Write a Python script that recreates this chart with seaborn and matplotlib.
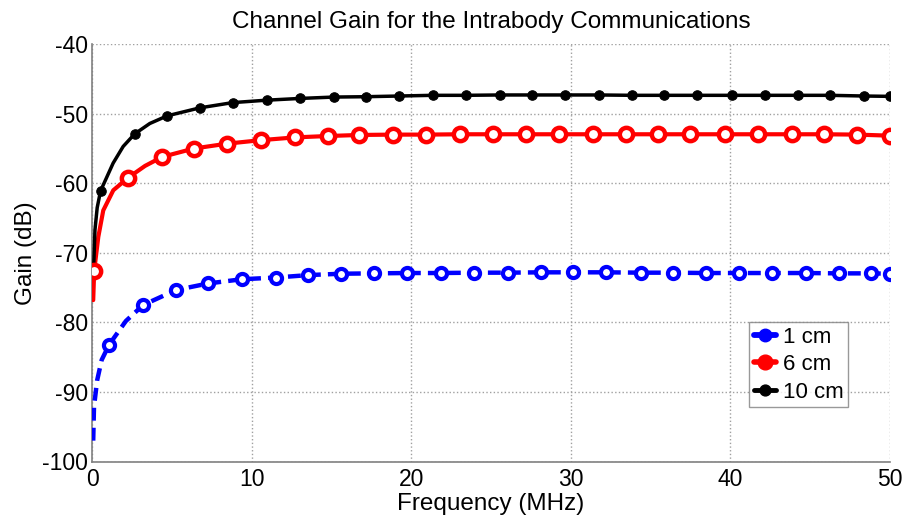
"""Channel gain of intrabody communication vs frequency, three electrode distances."""

import numpy as np
import pandas as pd
import matplotlib
matplotlib.use('Agg')
import matplotlib.pyplot as plt
import seaborn as sns
from matplotlib.lines import Line2D

# marker positions (MHz, dB)
f_1cm = [1.05, 3.18, 5.24, 7.26, 9.35, 11.5, 13.53, 15.62, 17.67, 19.76, 21.85, 23.94, 26.07,
         28.12, 30.14, 32.24, 34.39, 36.38, 38.46, 40.55, 42.64, 44.78, 46.82, 48.85, 50.0]
g_1cm = [-83.2, -77.5, -75.35, -74.4, -73.8, -73.55, -73.2, -73.0, -72.95, -72.9, -72.9, -72.85, -72.85,
         -72.8, -72.8, -72.8, -72.85, -72.85, -72.9, -72.9, -72.9, -72.9, -72.95, -72.95, -73.0]

f_6cm = [0.11, 2.24, 4.38, 6.36, 8.45, 10.55, 12.7, 14.78, 16.73, 18.86, 20.91, 23.08, 25.13,
         27.18, 29.27, 31.4, 33.45, 35.5, 37.5, 39.7, 41.77, 43.86, 45.88, 47.97, 50.0]
g_6cm = [-72.6, -59.2, -56.2, -55.0, -54.3, -53.8, -53.4, -53.2, -53.05, -53.0, -53.0, -52.95, -52.95,
         -52.95, -52.95, -52.95, -52.95, -52.95, -52.95, -52.95, -52.95, -52.95, -52.95, -53.0, -53.15]

f_10cm = [0.51, 2.65, 4.69, 6.74, 8.79, 10.92, 13.0, 15.14, 17.13, 19.24, 21.33, 23.42, 25.55,
          27.56, 29.65, 31.77, 33.87, 35.85, 37.94, 40.09, 42.16, 44.27, 46.26, 48.39, 50.0]
g_10cm = [-61.1, -52.9, -50.3, -49.15, -48.4, -48.05, -47.8, -47.6, -47.55, -47.45, -47.35, -47.35, -47.3,
          -47.3, -47.3, -47.3, -47.35, -47.35, -47.35, -47.35, -47.35, -47.35, -47.35, -47.45, -47.5]

# extra curve points between markers near 0 MHz (steep part)
f_1cm_extra = [0.05, 0.1, 0.3, 0.58, 2.1]
g_1cm_extra = [-97.0, -92.1, -88.3, -85.4, -79.8]
f_6cm_extra = [0.05, 0.37, 0.68, 1.31, 3.3]
g_6cm_extra = [-76.8, -67.7, -63.9, -61.0, -57.5]
f_10cm_extra = [0.08, 0.16, 0.3, 1.3, 1.93, 3.6]
g_10cm_extra = [-72.0, -66.7, -63.5, -57.1, -54.7, -51.4]

labels = ['1 cm', '6 cm', '10 cm']
colors = ['#0000ff', '#ff0000', '#000000']

sns.set_style('white')
plt.rcParams['font.family'] = ['Liberation Sans', 'DejaVu Sans']
plt.rcParams['axes.unicode_minus'] = False
for k in ['text.color', 'axes.labelcolor', 'xtick.color', 'ytick.color']:
    plt.rcParams[k] = 'black'

fig = plt.figure(figsize=(9.06, 5.2), dpi=100)
ax = fig.add_axes([0.102, 0.1125, 0.880, 0.8025])

series = [
    (f_1cm, g_1cm, f_1cm_extra, g_1cm_extra),
    (f_6cm, g_6cm, f_6cm_extra, g_6cm_extra),
    (f_10cm, g_10cm, f_10cm_extra, g_10cm_extra),
]
styles = [
    dict(lw=3.2, dashes=(2.9, 1.6), ms=8.0, face='white', mew=3.0),
    dict(lw=3.0, dashes=None, ms=9.6, face='white', mew=3.2),
    dict(lw=2.5, dashes=None, ms=6.8, face='#000000', mew=0.8),
]

for (fm, gm, fe, ge), lab, col, st in zip(series, labels, colors, styles):
    line = pd.DataFrame({'f': fm + fe, 'g': gm + ge}).sort_values('f')
    sns.lineplot(data=line, x='f', y='g', ax=ax, color=col, lw=st['lw'],
                 estimator=None, sort=True, legend=False, zorder=3)
    if st['dashes']:
        ax.lines[-1].set_dashes(st['dashes'])
    mk = pd.DataFrame({'f': fm, 'g': gm})
    sns.scatterplot(data=mk, x='f', y='g', ax=ax, s=st['ms'] ** 2, marker='o',
                    facecolor=st['face'], edgecolor=col, linewidth=st['mew'],
                    legend=False, zorder=4)

ax.set_xlim(0, 50)
ax.set_ylim(-100, -40)
ax.set_xticks(np.arange(0, 51, 10))
ax.set_yticks(np.arange(-100, -39, 10))
ax.grid(True, color='#a0a0a0', linestyle=':', linewidth=1.0)
for s in ['top', 'right']:
    ax.spines[s].set_visible(False)
for s in ['left', 'bottom']:
    ax.spines[s].set_color('#808080')
    ax.spines[s].set_linewidth(1.2)
ax.tick_params(labelsize=16.5, length=0)
ax.tick_params(axis='x', pad=5)
ax.tick_params(axis='y', pad=3)

ax.set_title('Channel Gain for the Intrabody Communications', fontsize=17.5, pad=12)
ax.set_xlabel('Frequency (MHz)', fontsize=17.5, labelpad=1)
ax.set_ylabel('Gain (dB)', fontsize=17.5, labelpad=4)

handles = [Line2D([], [], color=c, lw=st['lw'] + 1, marker='o', ms=st['ms'] + 1,
                  mfc=c, mec=c) for c, st in zip(colors, styles)]
leg = ax.legend(handles, labels, loc='upper left', bbox_to_anchor=(0.824, 0.334),
                fontsize=16, frameon=True, fancybox=False, edgecolor='#808080',
                handlelength=1.0, handletextpad=0.3, borderpad=0.2, labelspacing=0.3,
                borderaxespad=0)
leg.get_frame().set_linewidth(1.0)

fig.savefig('out.png', dpi=100)
